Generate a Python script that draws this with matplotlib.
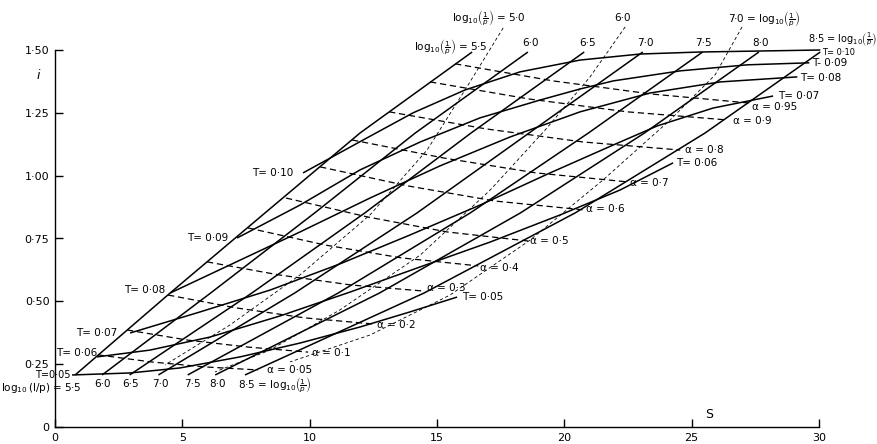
import matplotlib
matplotlib.use("Agg")
import matplotlib.pyplot as plt

plt.rcParams['font.family'] = ['DejaVu Sans']
plt.rcParams['mathtext.fontset'] = 'dejavusans'

# ---- values (S along x, i up y) ----

# T = const curves (solid)
t010_s = [9.74, 12.10, 14.06, 16.10, 18.26, 20.62, 22.98, 25.33, 27.69, 30.05]
t010_i = [1.011, 1.142, 1.250, 1.341, 1.413, 1.460, 1.484, 1.492, 1.496, 1.500]
t009_s = [7.15, 9.62, 11.98, 14.34, 16.69, 19.05, 20.62, 21.92, 24.55, 27.18, 29.62]
t009_i = [0.752, 0.883, 1.023, 1.134, 1.230, 1.301, 1.345, 1.377, 1.417, 1.441, 1.449]
t008_s = [4.52, 6.87, 9.62, 12.37, 15.12, 17.87, 20.62, 23.37, 26.12, 29.15]
t008_i = [0.533, 0.645, 0.776, 0.911, 1.039, 1.154, 1.254, 1.329, 1.373, 1.393]
t007_s = [2.95, 5.70, 8.45, 11.19, 13.94, 16.69, 19.44, 21.92, 23.65, 25.84, 28.20]
t007_i = [0.374, 0.458, 0.545, 0.649, 0.764, 0.883, 1.011, 1.122, 1.198, 1.269, 1.317]
t006_s = [1.65, 3.73, 6.09, 8.84, 11.59, 14.34, 17.09, 19.84, 22.19, 24.27]
t006_i = [0.279, 0.306, 0.358, 0.442, 0.537, 0.637, 0.736, 0.844, 0.943, 1.051]
t005_s = [0.67, 2.95, 4.91, 7.27, 9.62, 11.98, 13.94, 15.79]
t005_i = [0.207, 0.215, 0.235, 0.279, 0.334, 0.398, 0.458, 0.517]

# log10(1/p) = const lines (solid), S at five i levels
logp_i = [0.207, 0.533, 0.852, 1.170, 1.492]
lp55_s = [0.79, 4.52, 8.25, 11.98, 16.38]
lp60_s = [1.85, 6.11, 10.20, 14.15, 18.57]
lp65_s = [2.93, 7.73, 12.17, 16.34, 20.78]
lp70_s = [4.06, 9.41, 14.22, 18.62, 23.08]
lp75_s = [5.21, 11.12, 16.31, 20.95, 25.43]
lp80_s = [6.29, 12.74, 18.28, 23.15, 27.64]
lp85_s = [7.46, 14.49, 20.43, 25.53, 30.05]

# log10(1/p) = 5.0, 6.0, 7.0 (thin dashed)
lp50d_s = [17.60, 16.10, 14.61, 12.37, 9.62, 6.87, 4.32]
lp50d_i = [1.588, 1.341, 1.102, 0.844, 0.605, 0.406, 0.247]
lp60d_s = [22.39, 21.01, 19.25, 17.09, 14.34, 11.19, 8.44, 6.28]
lp60d_i = [1.592, 1.393, 1.182, 0.943, 0.684, 0.466, 0.306, 0.219]
lp70d_s = [26.98, 25.92, 24.16, 21.52, 18.66, 15.51, 12.37, 9.23]
lp70d_i = [1.592, 1.401, 1.222, 0.983, 0.744, 0.525, 0.366, 0.259]

# alpha = const curves (dashed)
a005_s = [1.69, 3.77, 5.89, 7.97]
a005_i = [0.287, 0.259, 0.239, 0.227]
a010_s = [2.83, 5.19, 7.58, 9.94]
a010_i = [0.386, 0.346, 0.318, 0.298]
a020_s = [4.44, 7.11, 9.82, 12.49]
a020_i = [0.525, 0.474, 0.434, 0.410]
a030_s = [5.97, 8.80, 11.63, 14.46]
a030_i = [0.657, 0.605, 0.565, 0.541]
a040_s = [7.58, 10.61, 13.59, 16.62]
a040_i = [0.792, 0.724, 0.673, 0.641]
a050_s = [9.07, 12.26, 15.40, 18.58]
a050_i = [0.911, 0.836, 0.776, 0.740]
a060_s = [10.41, 13.87, 17.28, 20.74]
a060_i = [1.035, 0.959, 0.899, 0.864]
a070_s = [11.67, 15.28, 18.89, 22.51]
a070_i = [1.142, 1.070, 1.011, 0.975]
a080_s = [13.12, 16.93, 20.74, 24.55]
a080_i = [1.254, 1.186, 1.134, 1.102]
a090_s = [14.73, 18.62, 22.47, 26.36]
a090_i = [1.373, 1.305, 1.254, 1.222]
a095_s = [15.71, 19.56, 23.41, 27.26]
a095_i = [1.445, 1.377, 1.325, 1.289]

y_ticks = [0, 0.25, 0.5, 0.75, 1.0, 1.25, 1.5]
y_ticklabels = ["0", "0·25", "0·50", "0·75", "1·00", "1·25", "1·50"]
x_ticks = [0, 5, 10, 15, 20, 25, 30]

LOGP = r"$\log_{10}\!\left(\frac{1}{p}\right)$"

fig = plt.figure(figsize=(8.78, 4.44), dpi=100)
ax = fig.add_axes([55 / 878, 17 / 444, 764 / 878, 377 / 444])
ax.set_xlim(0, 30)
ax.set_ylim(0, 1.5)
for side in ["top", "right"]:
    ax.spines[side].set_visible(False)
ax.spines["left"].set_linewidth(1.0)
ax.spines["bottom"].set_linewidth(1.0)
ax.set_xticks(x_ticks)
ax.set_xticklabels([str(x) for x in x_ticks])
ax.set_yticks(y_ticks)
ax.set_yticklabels(y_ticklabels)
ax.tick_params(direction="in", length=6, width=1, labelsize=8, pad=4)

kw_solid = dict(color="black", lw=1.1, clip_on=False, solid_capstyle="butt")
kw_alpha = dict(color="black", lw=0.9, clip_on=False, dashes=(5, 3))
kw_thin = dict(color="black", lw=0.6, clip_on=False, dashes=(4, 3))

# T curves
for s, i in [(t010_s, t010_i), (t009_s, t009_i), (t008_s, t008_i),
             (t007_s, t007_i), (t006_s, t006_i), (t005_s, t005_i)]:
    ax.plot(s, i, **kw_solid)

# log(1/p) solid lines
for s in [lp55_s, lp60_s, lp65_s, lp70_s, lp75_s, lp80_s, lp85_s]:
    ax.plot(s, logp_i, **kw_solid)

# log(1/p) thin dashed
for s, i in [(lp50d_s, lp50d_i), (lp60d_s, lp60d_i), (lp70d_s, lp70d_i)]:
    ax.plot(s, i, **kw_thin)

# alpha curves
for s, i in [(a005_s, a005_i), (a010_s, a010_i), (a020_s, a020_i),
             (a030_s, a030_i), (a040_s, a040_i), (a050_s, a050_i),
             (a060_s, a060_i), (a070_s, a070_i), (a080_s, a080_i),
             (a090_s, a090_i), (a095_s, a095_i)]:
    ax.plot(s, i, **kw_alpha)

fs = 7.5
# T labels, left ends
for txt, x, y, f in [("T= 0·10", 9.35, 1.011, fs), ("T= 0·09", 6.80, 0.752, fs),
                     ("T= 0·08", 4.32, 0.545, fs), ("T= 0·07", 2.44, 0.374, fs),
                     ("T= 0·06", 1.65, 0.294, fs), ("T=0·05", 0.62, 0.207, 7)]:
    ax.text(x, y, txt, ha="right", va="center", fontsize=f, clip_on=False)
# T labels, right ends
for txt, x, y, f in [("T= 0·10", 30.13, 1.492, 6), ("T- 0·09", 29.73, 1.448, fs),
                     ("T= 0·08", 29.26, 1.389, fs), ("T= 0·07", 28.40, 1.317, fs),
                     ("T= 0·06", 24.39, 1.051, fs), ("T= 0·05", 15.99, 0.517, fs)]:
    ax.text(x, y, txt, ha="left", va="center", fontsize=f, clip_on=False)
# alpha labels
for txt, x, y in [("0·95", 27.38, 1.273), ("0·9", 26.63, 1.218), ("0·8", 24.75, 1.102),
                  ("0·7", 22.59, 0.971), ("0·6", 20.86, 0.867), ("0·5", 18.66, 0.740),
                  ("0·4", 16.69, 0.633), ("0·3", 14.61, 0.553), ("0·2", 12.65, 0.406),
                  ("0·1", 10.09, 0.294), ("0·05", 8.33, 0.227)]:
    ax.text(x, y, "α = " + txt, ha="left", va="center", fontsize=fs, clip_on=False)

# log(1/p) labels along the top
ax.text(16.97, 1.512, LOGP + " = 5·5", ha="right", va="center", fontsize=fs)
for txt, x in [("6·0", 18.66), ("6·5", 20.90), ("7·0", 23.17), ("7·5", 25.45), ("8·0", 27.69)]:
    ax.text(x, 1.528, txt, ha="center", va="center", fontsize=fs, clip_on=False)
ax.text(29.55, 1.540, "8·5 = " + LOGP, ha="left", va="center", fontsize=7, clip_on=False)
ax.text(15.59, 1.627, LOGP + " = 5·0", ha="left", va="center", fontsize=fs, clip_on=False)
ax.text(22.27, 1.627, "6·0", ha="center", va="center", fontsize=fs, clip_on=False)
ax.text(26.43, 1.620, "7·0 = " + LOGP, ha="left", va="center", fontsize=fs, clip_on=False)

# log(1/p) labels along the bottom
ax.text(1.06, 0.155, r"$\log_{10}$(l/p) = 5·5", ha="right", va="center", fontsize=fs, clip_on=False)
for txt, x in [("6·0", 1.85), ("6·5", 2.95), ("7·0", 4.12), ("7·5", 5.38), ("8·0", 6.40)]:
    ax.text(x, 0.170, txt, ha="center", va="center", fontsize=fs)
ax.text(7.19, 0.166, "8·5 = " + LOGP, ha="left", va="center", fontsize=fs)

# axis names
ax.text(-0.67, 1.40, "i", fontsize=9, style="italic", ha="center", va="center", clip_on=False)
ax.text(25.7, 0.048, "S", fontsize=9, ha="center", va="center")

fig.savefig("out.png", dpi=100)
